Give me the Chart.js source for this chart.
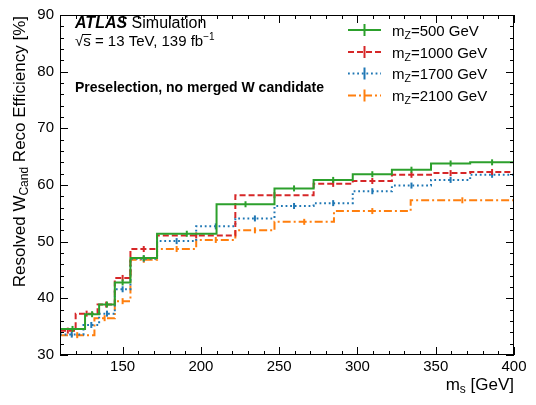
<!DOCTYPE html>
<html>
<head>
<meta charset="utf-8">
<script src="https://cdn.jsdelivr.net/npm/chart.js@4/dist/chart.umd.min.js"></script>
<style>
  html, body { margin: 0; padding: 0; background: #fff; }
  #wrap { width: 536px; height: 405px; }
</style>
</head>
<body>
<div id="wrap"><canvas id="c"></canvas></div>
<script>
const xTicks = [150, 200, 250, 300, 350, 400];
const yTicks = [30, 40, 50, 60, 70, 80, 90];

// bin edges in m_s [GeV] and efficiency [%] per bin
const edges500 = [110, 126, 135, 145, 155, 172, 210, 247, 272, 297, 322, 347, 372, 400];
const eff500 = [34.6, 37.2, 38.9, 42.8, 47.1, 51.4, 56.6, 59.4, 60.9, 61.9, 62.7, 63.8, 64.0];

const edges1000 = [110, 120, 134, 145, 155, 172, 222, 272, 297, 322, 347, 372, 400];
const eff1000 = [34.3, 37.3, 38.9, 43.6, 48.7, 51.1, 58.2, 60.2, 60.7, 61.8, 62.1, 62.3];

const edges1700 = [110, 125, 135, 145, 155, 172, 197, 222, 247, 272, 297, 322, 347, 372, 400];
const eff1700 = [33.6, 35.3, 37.3, 41.6, 47.0, 50.1, 52.7, 54.1, 56.3, 56.8, 58.9, 59.9, 60.9, 61.8];

const edges2100 = [110, 132, 145, 155, 172, 197, 222, 247, 285, 334, 400];
const eff2100 = [33.5, 36.5, 39.5, 46.8, 48.7, 50.3, 52.0, 53.5, 55.4, 57.3];

const series = [
    { mz: '500', edges: edges500, vals: eff500, color: '#2ca02c', dash: [] },
    { mz: '1000', edges: edges1000, vals: eff1000, color: '#d62728', dash: [6, 3] },
    { mz: '1700', edges: edges1700, vals: eff1700, color: '#1f77b4', dash: [1.8, 2.8] },
    { mz: '2100', edges: edges2100, vals: eff2100, color: '#ff7f0e', dash: [8, 3, 2, 3] }
];

const FONT = '"Liberation Sans", Arial, Helvetica, sans-serif';

const datasets = [];
series.forEach(s => {
    datasets.push({
        data: s.edges.map((e, i) => ({ x: e, y: s.vals[Math.min(i, s.vals.length - 1)] })),
        showLine: true,
        borderColor: s.color,
        borderWidth: 2,
        borderDash: s.dash,
        stepped: true,
        pointRadius: 0,
        fill: false
    });
    datasets.push({
        data: s.vals.map((v, i) => ({ x: (s.edges[i] + s.edges[i + 1]) / 2, y: v })),
        showLine: false,
        pointStyle: 'line',
        rotation: 90,
        pointRadius: 3,
        borderWidth: 2,
        borderColor: s.color
    });
});

// draw text pieces left to right; each piece may be sub/superscript or bold
function richWidth(ctx, parts) {
    let w = 0;
    parts.forEach(p => { ctx.font = p.font; w += ctx.measureText(p.t).width; });
    return w;
}
function drawRich(ctx, parts, x, y) {
    parts.forEach(p => {
        ctx.font = p.font;
        ctx.fillText(p.t, x, y + (p.dy || 0));
        x += ctx.measureText(p.t).width;
    });
    return x;
}

const decor = {
    id: 'decor',
    afterDraw(chart) {
        const ctx = chart.ctx;
        const a = chart.chartArea;
        const xs = chart.scales.x, ys = chart.scales.y;
        ctx.save();
        ctx.strokeStyle = '#000';
        ctx.fillStyle = '#000';
        ctx.lineWidth = 1;
        ctx.strokeRect(a.left + 0.5, a.top + 0.5, a.right - a.left - 1, a.bottom - a.top - 1);

        // inward ticks on all four sides
        ctx.beginPath();
        for (let v = 110; v <= 400; v += 10) {
            const px = Math.round(xs.getPixelForValue(v)) + 0.5;
            const len = v % 50 === 0 ? 8 : 4;
            ctx.moveTo(px, a.bottom); ctx.lineTo(px, a.bottom - len);
            ctx.moveTo(px, a.top); ctx.lineTo(px, a.top + len);
        }
        for (let v = 30; v <= 90; v += 2) {
            const py = Math.round(ys.getPixelForValue(v)) + 0.5;
            const len = v % 10 === 0 ? 8 : 4;
            ctx.moveTo(a.left, py); ctx.lineTo(a.left + len, py);
            ctx.moveTo(a.right, py); ctx.lineTo(a.right - len, py);
        }
        ctx.stroke();

        ctx.textBaseline = 'alphabetic';
        ctx.textAlign = 'left';

        // ATLAS label
        let x = drawRich(ctx, [{ t: 'ATLAS', font: 'italic bold 16px ' + FONT }], 75, 28);
        drawRich(ctx, [{ t: ' Simulation', font: '16px ' + FONT }], x, 28);
        ctx.font = '15px ' + FONT;
        const rootW = ctx.measureText('\u221A').width;
        const sW = ctx.measureText('s').width;
        x = drawRich(ctx, [
            { t: '\u221As = 13 TeV, 139 fb', font: '15px ' + FONT },
            { t: '\u22121', font: '10px ' + FONT, dy: -6 }
        ], 75, 46);
        ctx.beginPath();
        ctx.moveTo(75 + rootW - 1, 34.5);
        ctx.lineTo(75 + rootW + sW + 0.5, 34.5);
        ctx.stroke();
        drawRich(ctx, [{ t: 'Preselection, no merged W candidate', font: 'bold 14px ' + FONT }], 75, 92);

        // legend
        const rows = [30, 52, 73.5, 95.5];
        series.forEach((s, i) => {
            const cy = rows[i];
            ctx.save();
            ctx.strokeStyle = s.color;
            ctx.lineWidth = 2;
            ctx.setLineDash(s.dash);
            ctx.beginPath();
            ctx.moveTo(348, cy); ctx.lineTo(381, cy);
            ctx.stroke();
            ctx.setLineDash([]);
            ctx.beginPath();
            ctx.moveTo(364.5, cy - 6); ctx.lineTo(364.5, cy + 6);
            ctx.stroke();
            ctx.restore();
            drawRich(ctx, [
                { t: 'm', font: '15px ' + FONT },
                { t: 'Z', font: '10.5px ' + FONT, dy: 3 },
                { t: '=' + s.mz + ' GeV', font: '15px ' + FONT }
            ], 392, cy + 5.5);
        });

        // axis titles
        const xt = [
            { t: 'm', font: '17px ' + FONT },
            { t: 's', font: '12px ' + FONT, dy: 3 },
            { t: ' [GeV]', font: '17px ' + FONT }
        ];
        drawRich(ctx, xt, a.right - richWidth(ctx, xt), 390);

        const yt = [
            { t: 'Resolved W', font: '17px ' + FONT },
            { t: 'Cand', font: '12px ' + FONT, dy: 3 },
            { t: ' Reco Efficiency [%]', font: '17px ' + FONT }
        ];
        ctx.translate(25, a.top + 1);
        ctx.rotate(-Math.PI / 2);
        drawRich(ctx, yt, -richWidth(ctx, yt), 0);
        ctx.restore();
    }
};

new Chart(document.getElementById('c'), {
    type: 'scatter',
    data: { datasets: datasets },
    options: {
        responsive: true,
        maintainAspectRatio: false,
        animation: false,
        events: [],
        layout: { padding: { left: 0, top: 7, right: 22, bottom: 0 } },
        plugins: { legend: { display: false }, tooltip: { enabled: false } },
        scales: {
            x: {
                type: 'linear',
                min: 110,
                max: 400,
                afterBuildTicks: s => { s.ticks = xTicks.map(v => ({ value: v })); },
                afterFit: s => { s.height = 50; },
                grid: { display: false, drawTicks: false },
                border: { display: false },
                ticks: { padding: 3, color: '#000', maxRotation: 0, font: { family: FONT, size: 15 } }
            },
            y: {
                type: 'linear',
                min: 30,
                max: 90,
                afterBuildTicks: s => { s.ticks = yTicks.map(v => ({ value: v })); },
                afterFit: s => { s.width = 60; },
                grid: { display: false, drawTicks: false },
                border: { display: false },
                ticks: { padding: 6, color: '#000', font: { family: FONT, size: 15 } }
            }
        }
    },
    plugins: [decor]
});
</script>
</body>
</html>
